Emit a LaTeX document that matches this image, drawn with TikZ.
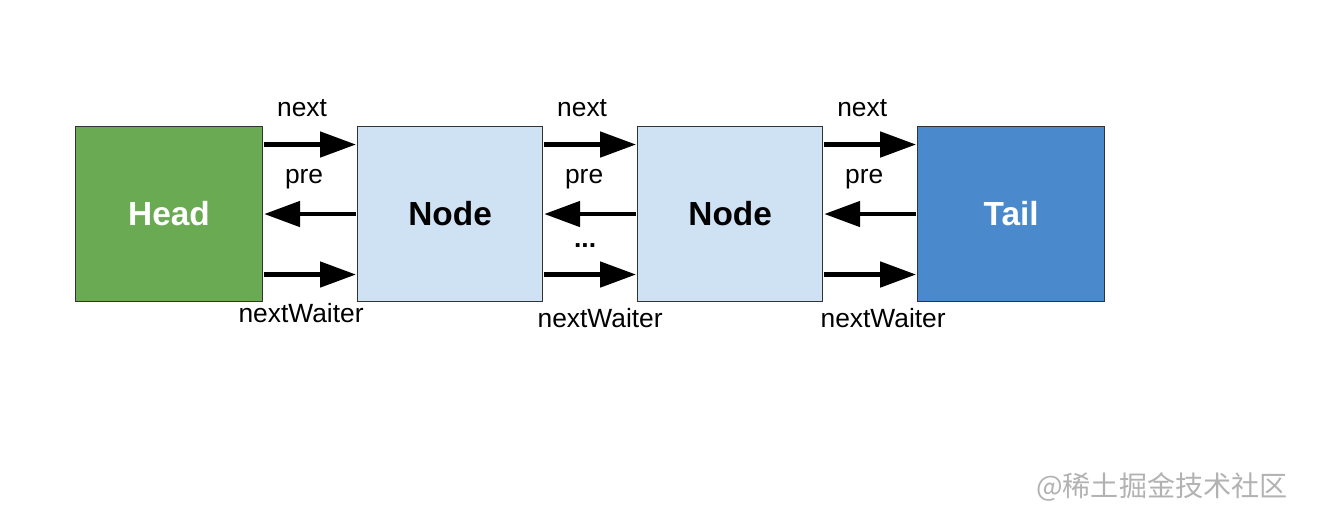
\documentclass[tikz,border=0pt]{standalone}
\usepackage{fontspec}
\setmainfont{Liberation Sans}
\newfontfamily\cjkfont{Noto Sans CJK SC}
\usetikzlibrary{arrows.meta,positioning,calc}
\definecolor{headgreen}{HTML}{6AAA52}
\definecolor{nodeblue}{HTML}{CFE2F3}
\definecolor{tailblue}{HTML}{4A89CB}
\definecolor{edgegray}{HTML}{333333}

\begin{document}
\begin{tikzpicture}[
    node distance=1.88cm,
    box/.style={draw=edgegray, line width=0.6pt, minimum width=3.74cm, minimum height=3.5cm, inner sep=0pt, font=\fontsize{19}{22}\selectfont\bfseries},
    midbox/.style={box, fill=nodeblue, minimum width=3.7cm},
    lbl/.style={font=\fontsize{15}{18}\selectfont, inner sep=0pt},
    link/.style={-{Triangle[length=0.72cm, width=0.5cm]}, line width=2.8pt, shorten >=0.6pt, shorten <=0.6pt}
]
\useasboundingbox (0,0) rectangle (26.76,-10.2);
\node[box, fill=headgreen, text=white, anchor=north west] (head) at (1.5,-2.52) {Head};
\node[midbox, right=of head] (node1) {Node};
\node[midbox, right=of node1] (node2) {Node};
\node[box, fill=tailblue, text=white, right=of node2] (tail) {Tail};

% next / pre / nextWaiter between each pair
\draw[link] ([yshift=1.39cm]head.east) -- node[lbl, yshift=0.72cm, xshift=-0.16cm] (next1) {next} ([yshift=1.39cm]node1.west);
\draw[link] (node1.west) -- node[lbl, yshift=0.7cm, xshift=-0.12cm] (pre1) {pre} (head.east);
\draw[link] ([yshift=-1.21cm]head.east) -- node[lbl, yshift=-0.78cm, xshift=-0.18cm] (wait1) {nextWaiter} ([yshift=-1.21cm]node1.west);

\draw[link] ([yshift=1.39cm]node1.east) -- node[lbl, yshift=0.72cm, xshift=-0.16cm] (next2) {next} ([yshift=1.39cm]node2.west);
\draw[link] (node2.west) -- node[lbl, yshift=0.7cm, xshift=-0.12cm] (pre2) {pre} (node1.east);
\draw[link] ([yshift=-1.21cm]node1.east) -- node[lbl, yshift=-0.88cm, xshift=0.2cm] (wait2) {nextWaiter} ([yshift=-1.21cm]node2.west);
\node[lbl, font=\fontsize{15}{18}\selectfont\bfseries] (dots) at ([yshift=-0.64cm, xshift=-0.1cm]$(node1.east)!0.5!(node2.west)$) {...};

\draw[link] ([yshift=1.39cm]node2.east) -- node[lbl, yshift=0.72cm, xshift=-0.16cm] (next3) {next} ([yshift=1.39cm]tail.west);
\draw[link] (tail.west) -- node[lbl, yshift=0.7cm, xshift=-0.12cm] (pre3) {pre} (node2.east);
\draw[link] ([yshift=-1.21cm]node2.east) -- node[lbl, yshift=-0.88cm, xshift=0.26cm] (wait3) {nextWaiter} ([yshift=-1.21cm]tail.west);

\node[font=\cjkfont\fontsize{16}{18}\selectfont, text=black!30] (mark) at (23.24,-9.74) {@稀土掘金技术社区};
\end{tikzpicture}
\end{document}
